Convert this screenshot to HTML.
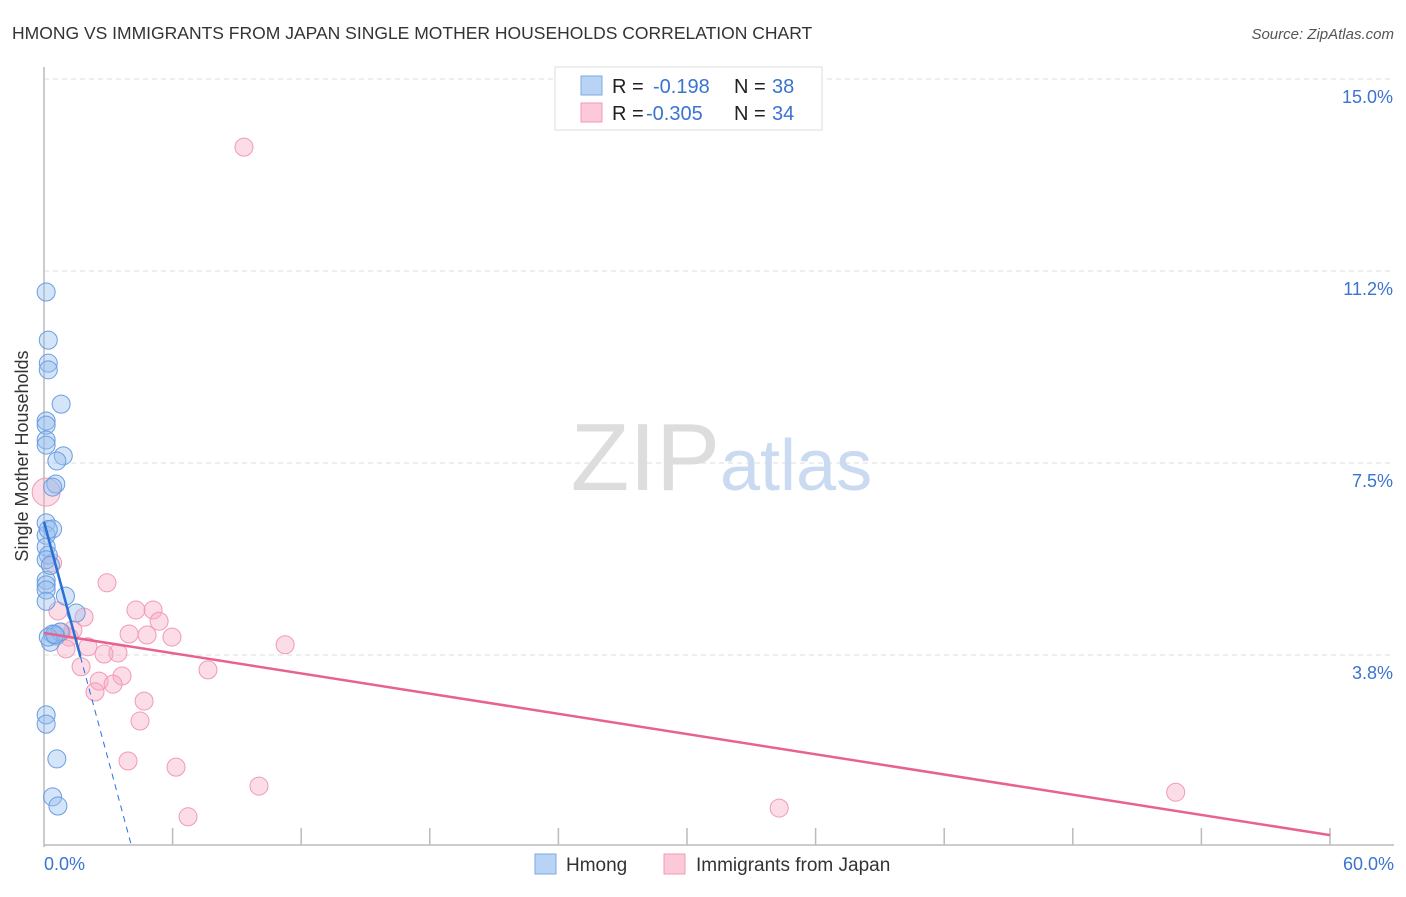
<!DOCTYPE html>
<html><head><meta charset="utf-8"><style>
body{margin:0;background:#fff;font-family:"Liberation Sans",sans-serif;}
svg text{font-family:"Liberation Sans",sans-serif;}
</style></head><body>
<svg id="chart" width="1406" height="892" viewBox="0 0 1406 892">
<text x="12" y="39" font-size="17.5" fill="#333">HMONG VS IMMIGRANTS FROM JAPAN SINGLE MOTHER HOUSEHOLDS CORRELATION CHART</text>
<text x="1394" y="39" font-size="15" fill="#555" font-style="italic" text-anchor="end">Source: ZipAtlas.com</text>
<g id="grid"></g>
<text x="720" y="490" font-size="96" font-family="Liberation Serif" fill="#ddd" text-anchor="end">ZIP</text>
<text x="720" y="490" font-size="72" fill="#c9daf1">atlas</text>
<g id="axes"></g>
<g id="marks"></g>
<text x="28" y="456" font-size="18" fill="#333" text-anchor="middle" transform="rotate(-90 28 456)">Single Mother Households</text>
<g>
<rect x="555" y="67" width="267" height="63" fill="#fff" stroke="#ddd"/>
<rect x="581" y="76" width="21" height="19" fill="#b9d3f5" stroke="#7aa8e6"/>
<rect x="581" y="103" width="21" height="19" fill="#fcc9d8" stroke="#f09ab5"/>
<text x="612" y="93" font-size="20" fill="#222">R = </text><text x="653" y="93" font-size="20" fill="#3a73d0">-0.198</text>
<text x="734" y="93" font-size="20" fill="#222">N = </text><text x="772" y="93" font-size="20" fill="#3a73d0">38</text>
<text x="612" y="120" font-size="20" fill="#222">R = </text><text x="646" y="120" font-size="20" fill="#3a73d0">-0.305</text>
<text x="734" y="120" font-size="20" fill="#222">N = </text><text x="772" y="120" font-size="20" fill="#3a73d0">34</text>
</g>
<g>
<rect x="535" y="854" width="21" height="20" fill="#b9d3f5" stroke="#7aa8e6"/>
<text x="566" y="871" font-size="19" fill="#333">Hmong</text>
<rect x="664" y="854" width="21" height="20" fill="#fcc9d8" stroke="#f09ab5"/>
<text x="696" y="871" font-size="19" fill="#333">Immigrants from Japan</text>
</g>
</svg>
<script>
const yTicks=[3.75,7.5,11.25,15];
const yTickLabels=["3.8%","7.5%","11.2%","15.0%"];
const xTickLabels=["0.0%","60.0%"];
const hmongX=[0.1,0.2,0.2,0.2,0.8,0.1,0.1,0.1,0.1,0.9,0.6,0.55,0.4,0.1,0.4,0.1,0.1,0.2,0.1,0.1,0.1,0.1,1.0,1.5,0.4,0.55,0.3,0.1,0.1,0.6,0.4,0.65,0.75,0.2,0.3,0.2,0.1,0.5];
const hmongY=[10.84,9.9,9.45,9.32,8.65,8.32,8.24,7.95,7.85,7.64,7.54,7.09,7.03,6.33,6.21,6.09,5.86,5.7,5.61,5.21,5.12,5.02,4.9,4.57,4.16,4.12,4.0,2.58,2.4,1.72,0.98,0.8,4.2,4.1,5.5,6.2,4.8,4.15];
const japanX=[9.33,0.1,0.4,2.94,0.65,1.87,4.29,5.09,5.37,1.35,3.97,4.81,5.97,1.17,11.25,2.05,1.03,3.45,2.8,1.73,7.65,3.64,2.57,3.22,2.38,4.67,4.48,3.92,6.16,10.03,6.72,34.3,52.8,0.8];
const japanY=[13.67,6.93,5.55,5.16,4.61,4.49,4.63,4.63,4.41,4.24,4.16,4.14,4.1,4.1,3.95,3.91,3.87,3.79,3.77,3.52,3.46,3.34,3.24,3.18,3.03,2.85,2.46,1.68,1.56,1.19,0.59,0.76,1.07,4.2];
const hmongTrend=[6.35,-1.55];
const japanTrend=[4.18,-0.0658];
const X0=44,X1=1330,Y0=847,YT=79;
const sx=v=>X0+v/60*(X1-X0);
const sy=v=>Y0-v/15*(Y0-YT);
const NS="http://www.w3.org/2000/svg";
function mk(parent,tag,attrs){const e=document.createElementNS(NS,tag);for(const k in attrs)e.setAttribute(k,attrs[k]);document.getElementById(parent).appendChild(e);return e;}
yTicks.forEach((t,i)=>{
  const g=mk('grid','line',{x1:X0,x2:1394,y1:sy(t),y2:sy(t),stroke:'#ddd','stroke-dasharray':'5,4'});
  
  
  const l=mk('axes','text',{x:1393,y:sy(t)+24,'font-size':18,fill:'#3a73d0','text-anchor':'end'});
  l.textContent=yTickLabels[i];
  
  
});
let a=mk('axes','line',{x1:X0,x2:X0,y1:67,y2:Y0,stroke:'#bbb','stroke-width':1.5});


a=mk('axes','line',{x1:X0,x2:1394,y1:Y0-2,y2:Y0-2,stroke:'#bbb','stroke-width':1.5});


for(let i=1;i<=10;i++){
  const t=mk('axes','line',{x1:sx(i*6),x2:sx(i*6),y1:828,y2:845,stroke:'#bbb','stroke-width':1.5});
  
  
}
[[0,'start',44],[60,'end',1394]].forEach((p,i)=>{
  const l=mk('axes','text',{x:p[2],y:870,'font-size':18,fill:'#3a73d0','text-anchor':p[1]});
  l.textContent=xTickLabels[i];
  
  
});
japanX.forEach((x,i)=>{
  const c=mk('marks','circle',{cx:sx(x),cy:sy(japanY[i]),r:i==1?14:9,fill:'rgba(248,170,195,0.4)',stroke:'#f09ab5','stroke-width':1});
  
  
});
hmongX.forEach((x,i)=>{
  const c=mk('marks','circle',{cx:sx(x),cy:sy(hmongY[i]),r:9,fill:'rgba(150,190,240,0.4)',stroke:'#6a9de0','stroke-width':1});
  
  
});
let t=mk('marks','line',{x1:sx(0),y1:sy(japanTrend[0]),x2:sx(60),y2:sy(japanTrend[0]+japanTrend[1]*60),stroke:'#e8628f','stroke-width':2.5});


const xs=1.7,xe=-hmongTrend[0]/hmongTrend[1];
t=mk('marks','line',{x1:sx(0),y1:sy(hmongTrend[0]),x2:sx(xs),y2:sy(hmongTrend[0]+hmongTrend[1]*xs),stroke:'#2a6fd6','stroke-width':2.5});


t=mk('marks','line',{x1:sx(xs),y1:sy(hmongTrend[0]+hmongTrend[1]*xs),x2:sx(xe),y2:sy(0),stroke:'#2a6fd6','stroke-width':1,'stroke-dasharray':'6,5'});


</script>
</body></html>
